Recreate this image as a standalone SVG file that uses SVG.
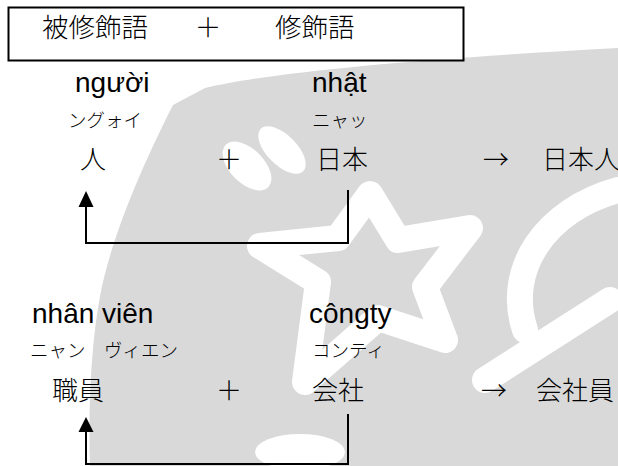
<svg xmlns="http://www.w3.org/2000/svg" width="618" height="466" viewBox="0 0 618 466">
  <style>
    .lat { font-family: "Liberation Sans", Arial, sans-serif; font-size: 28px; font-weight: normal; fill: #000; }
    .cjk { font-family: "Noto Sans CJK JP", "Noto Sans CJK SC", sans-serif; font-weight: 300; fill: #000; }
    .big { font-size: 26px; }
    .hdr { font-size: 26.5px; }
    .kana { font-size: 18.5px; }
    .conn { fill: none; stroke: #000; stroke-width: 2; }
    .head { fill: #000; }
    .wm { fill: #d9d9d9; }
    .wmw { fill: #fff; }
    .wms { fill: none; stroke: #fff; stroke-linecap: round; stroke-linejoin: round; }
  </style>
  <rect width="618" height="466" fill="#fff"/>
  <!-- watermark -->
  <g id="watermark">
    <path class="wm" d="M173,105 L205,88 C270,72 430,58 618,48 V466 H90 C88,400 92,320 106,270 C118,225 140,170 173,105 Z"/>
    <ellipse class="wmw" cx="247" cy="166" rx="30" ry="17" transform="rotate(45 247 166)"/>
    <ellipse class="wmw" cx="282" cy="150" rx="30" ry="15" transform="rotate(45 282 150)"/>
    <path class="wms" stroke-width="26" d="M370,194 L398,240 L470,228 L425,287 L445,340 L378,318 L305,382 L318,282 L260,246 L338,238 Z"/>
    <path class="wms" stroke-width="26" d="M618,190 C545,210 505,270 525,330"/>
    <path class="wms" stroke-width="26" d="M610,300 L485,380"/>
    <circle class="wmw" cx="568" cy="218" r="9"/>
    <ellipse class="wmw" cx="300" cy="452" rx="45" ry="18"/>
  </g>

  <g id="header">
    <rect x="8.5" y="7.5" width="455" height="53" fill="#fff" stroke="#000" stroke-width="2"/>
    <text class="cjk hdr" x="42" y="37">被修飾語</text>
    <text class="cjk hdr" x="208" y="37" text-anchor="middle">＋</text>
    <text class="cjk hdr" x="275" y="37">修飾語</text>
  </g>

  <g id="node-nguoi">
    <text class="lat" x="75" y="92">người</text>
    <text class="cjk kana" x="68" y="127">ングォイ</text>
    <text class="cjk big" x="80" y="169">人</text>
  </g>
  <text class="cjk big" x="229" y="169" text-anchor="middle">＋</text>
  <g id="node-nhat">
    <text class="lat" x="312" y="92">nhật</text>
    <text class="cjk kana" x="312" y="127">ニャッ</text>
    <text class="cjk big" x="316" y="169">日本</text>
  </g>
  <text class="cjk big" x="496" y="169" text-anchor="middle">→</text>
  <g id="node-nihonjin">
    <text class="cjk big" x="542" y="169">日本人</text>
  </g>

  <g id="node-nhanvien">
    <text class="lat" x="32" y="323">nhân viên</text>
    <text class="cjk kana" x="30" y="357">ニャン　ヴィエン</text>
    <text class="cjk big" x="52" y="400">職員</text>
  </g>
  <text class="cjk big" x="229" y="400" text-anchor="middle">＋</text>
  <g id="node-congty">
    <text class="lat" x="309" y="323">côngty</text>
    <text class="cjk kana" x="312" y="357">コンティ</text>
    <text class="cjk big" x="312" y="400">会社</text>
  </g>
  <text class="cjk big" x="494" y="400" text-anchor="middle">→</text>
  <g id="node-kaishain">
    <text class="cjk big" x="536" y="400">会社員</text>
  </g>

  <g id="connectors">
    <path class="conn" d="M348,190 V243 H86 V205"/>
    <polygon class="head" points="86,191 78.5,207 93.5,207"/>
    <path class="conn" d="M348,414 V464 H86 V430"/>
    <polygon class="head" points="86,417 78.5,432 93.5,432"/>
  </g>
</svg>
